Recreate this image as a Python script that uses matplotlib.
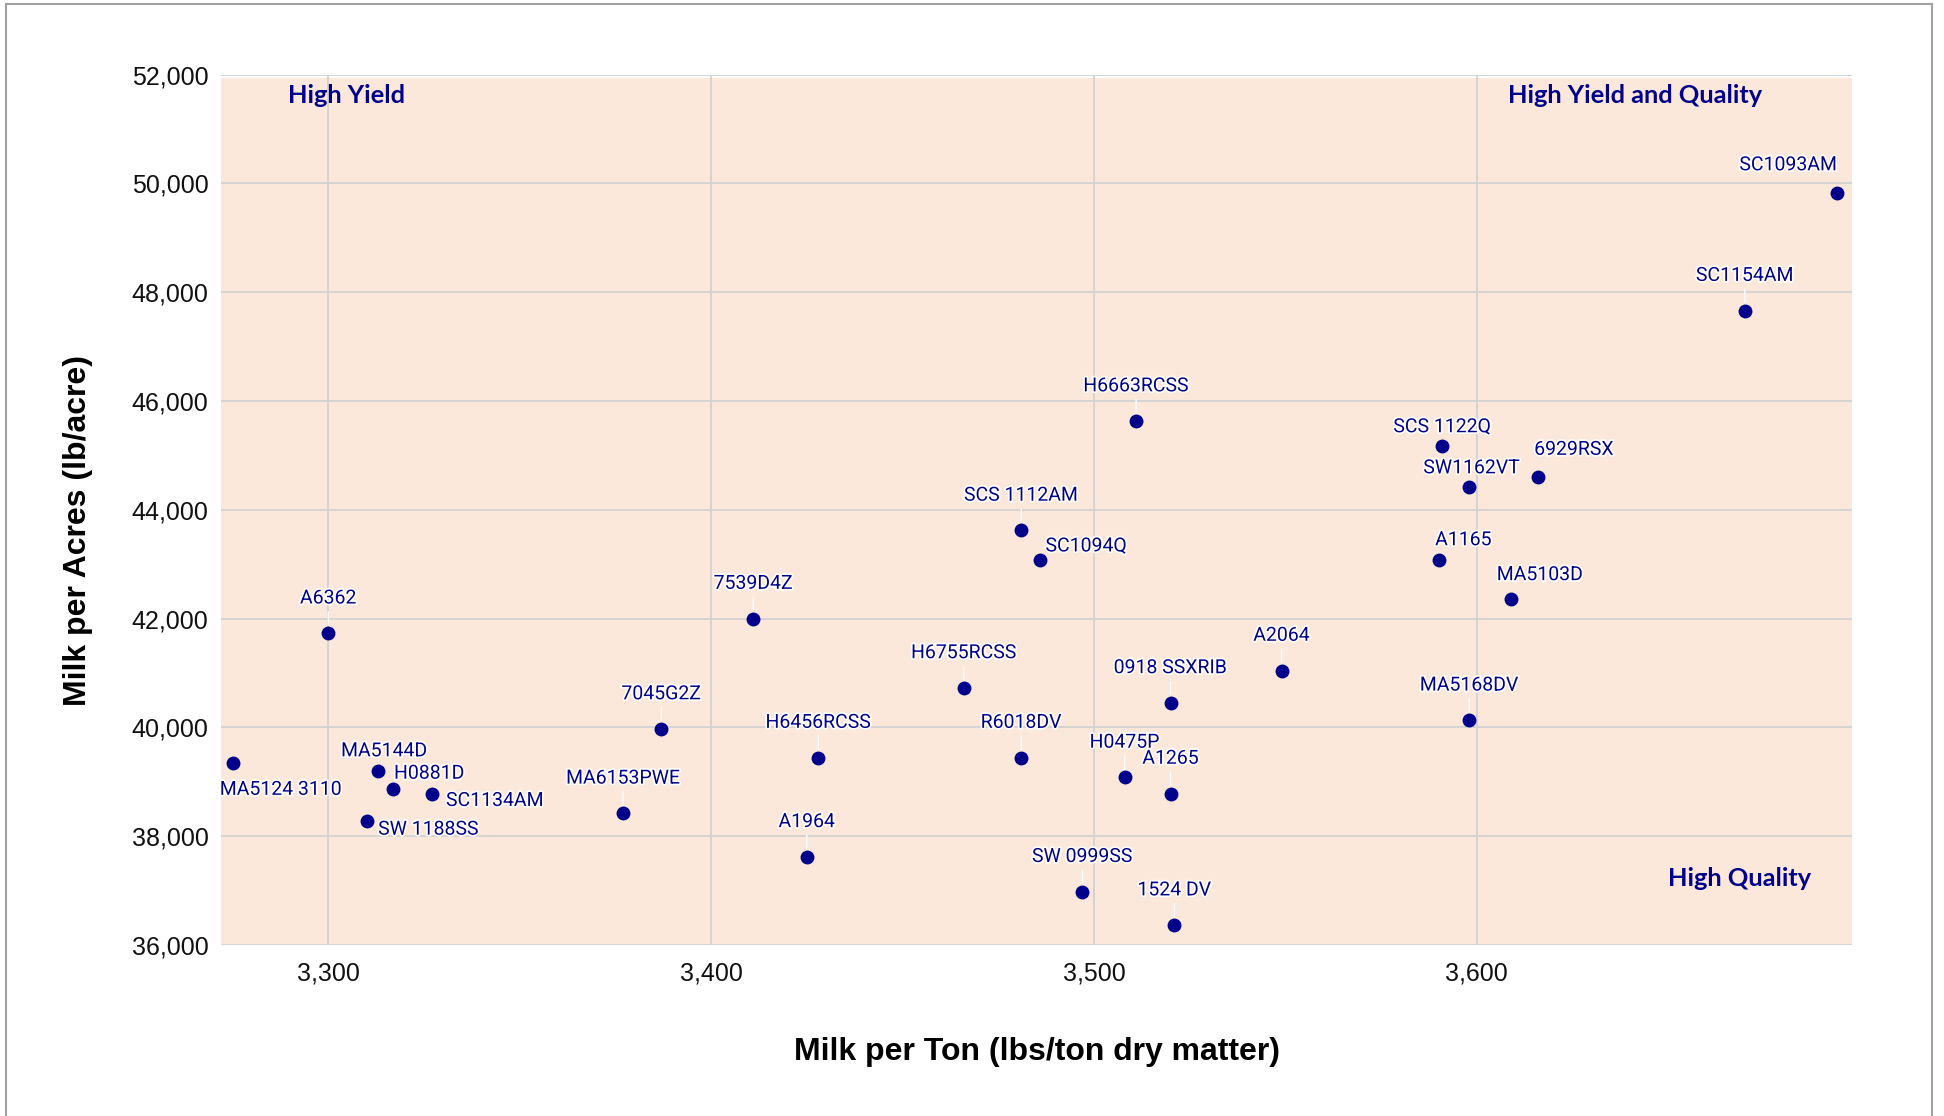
import matplotlib
matplotlib.use("Agg")
import matplotlib.pyplot as plt
import matplotlib.patheffects as pe
from matplotlib.ticker import FuncFormatter
from matplotlib.patches import Rectangle

# hybrids: milk per ton (x) vs milk per acre (y)
names = ["SC1093AM", "SC1154AM", "H6663RCSS", "SCS 1122Q", "6929RSX", "SW1162VT",
         "SCS 1112AM", "SC1094Q", "A1165", "MA5103D", "7539D4Z", "A6362",
         "H6755RCSS", "A2064", "0918 SSXRIB", "MA5168DV", "7045G2Z", "R6018DV",
         "H6456RCSS", "MA5124 3110", "MA5144D", "H0881D", "SC1134AM", "H0475P",
         "A1265", "MA6153PWE", "SW 1188SS", "A1964", "SW 0999SS", "1524 DV"]
milk_ton = [3694, 3670, 3511, 3591, 3616, 3598,
            3481, 3486, 3590, 3609, 3411, 3300,
            3466, 3549, 3520, 3598, 3387, 3481,
            3428, 3275, 3313, 3317, 3327, 3508,
            3520, 3377, 3310, 3425, 3497, 3521]
milk_acre = [49830, 47660, 45630, 45175, 44600, 44420,
             43620, 43075, 43075, 42365, 42000, 41730,
             40725, 41045, 40450, 40130, 39970, 39445,
             39445, 39355, 39195, 38875, 38785, 39080,
             38785, 38420, 38280, 37620, 36980, 36365]

# label offsets (screen px of the reference) where not simply above
default_off = (0, -28)
label_off = {
    "SC1093AM": (-39, -22), "SCS 1122Q": (0, -15), "6929RSX": (29, -22),
    "SW1162VT": (2, -15), "SC1094Q": (37, -11), "A1165": (20, -16),
    "MA5103D": (23, -19), "MA5124 3110": (39, 22), "MA5144D": (5, -16),
    "H0881D": (29, -12), "SC1134AM": (51, 6), "SW 1188SS": (50, 7),
}

navy = "#00008B"
bg = "#FBE8DB"

fig = plt.figure(figsize=(19.44, 11.16), dpi=100)
ax = fig.add_axes([0.1137, 0.1532, 0.839, 0.780])
ax.set_facecolor("white")
ax.set_xlim(3272, 3698)
ax.set_ylim(36000, 52000)
ax.axhspan(36000, 51930, color=bg, zorder=0, lw=0)

ax.set_xticks([3300, 3400, 3500, 3600])
ax.set_yticks(range(36000, 52001, 2000))
fmt = FuncFormatter(lambda v, p: "{:,.0f}".format(v))
ax.xaxis.set_major_formatter(fmt)
ax.yaxis.set_major_formatter(fmt)
ax.grid(True, color="#D2D2D2", lw=1.3, zorder=1)
ax.set_axisbelow(True)
for s in ax.spines.values():
    s.set_visible(False)
ax.tick_params(length=0, labelsize=18, labelcolor="#111111")
ax.tick_params(axis="y", pad=9)
ax.tick_params(axis="x", pad=12)
for t in ax.get_xticklabels() + ax.get_yticklabels():
    t.set_fontfamily(["Liberation Sans", "DejaVu Sans"])

ax.scatter(milk_ton, milk_acre, s=100, color=navy, zorder=4, lw=0)

sc = 0.894  # reference screen px -> points
for n, xv, yv in zip(names, milk_ton, milk_acre):
    dx, dy = label_off.get(n, default_off)
    ax.annotate(n, (xv, yv), xytext=(dx * sc, -dy * sc), textcoords="offset points",
                ha="center", va="center", fontsize=14, color=navy,
                family=["Roboto", "DejaVu Sans"], zorder=5,
                path_effects=[pe.withStroke(linewidth=2.5, foreground="white")],
                arrowprops=dict(arrowstyle="-", color="white", lw=1,
                                shrinkA=1, shrinkB=6) if dy <= -25 else None)

qkw = dict(transform=ax.transAxes, fontsize=18.3, fontweight="bold", color=navy,
           family=["Lato", "DejaVu Sans"], va="center", zorder=6)
ax.text(0.041, 0.976, "High Yield", ha="left", **qkw)
ax.text(0.789, 0.976, "High Yield and Quality", ha="left", **qkw)
ax.text(0.887, 0.077, "High Quality", ha="left", **qkw)

ax.set_xlabel("Milk per Ton (lbs/ton dry matter)", fontsize=23, fontweight="bold",
              family=["Liberation Sans", "DejaVu Sans"], labelpad=37)
ax.set_ylabel("Milk per Acres (lb/acre)", fontsize=23, fontweight="bold",
              family=["Liberation Sans", "DejaVu Sans"], labelpad=28, y=0.476)

# outer frame
fig.patches.append(Rectangle((0.003, -0.01), 0.991, 1.006, transform=fig.transFigure,
                             fill=False, edgecolor="#A0A0A0", lw=1.5))

fig.savefig("out.png", dpi=100)
